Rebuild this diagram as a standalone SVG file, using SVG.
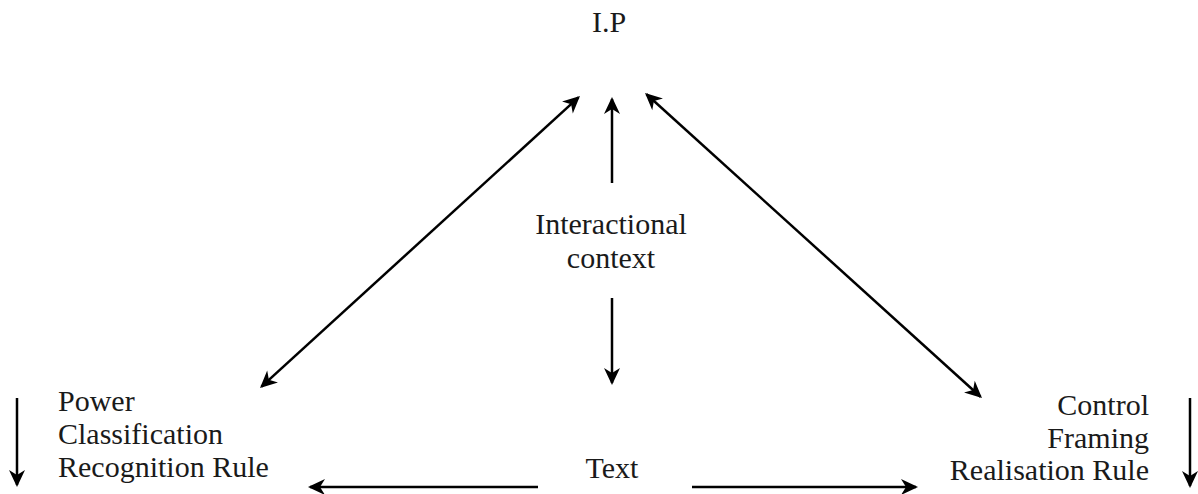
<svg xmlns="http://www.w3.org/2000/svg" width="1198" height="494" viewBox="0 0 1198 494">
  <style>
    .lbl { font-family: "Liberation Serif", "Times New Roman", serif; font-size: 30px; fill: #1a1a1a; }
    .mid { text-anchor: middle; }
    .end { text-anchor: end; }
    .conn line { stroke: #000; stroke-width: 2.5; fill: none; }
    .one { marker-end: url(#head); }
    .two { marker-start: url(#head); marker-end: url(#head); }
  </style>
  <defs>
    <marker id="head" markerUnits="userSpaceOnUse" orient="auto-start-reverse" refX="-2" refY="0" overflow="visible">
      <path d="M0,0 L-17,-8 L-12,0 L-17,8 Z" fill="#000"/>
    </marker>
  </defs>
  <rect width="1198" height="494" fill="#fff"/>

  <g id="node-ip">
    <text class="lbl mid" x="609" y="32">I.P</text>
  </g>
  <g id="node-context">
    <text class="lbl mid" x="611" y="234">Interactional</text>
    <text class="lbl mid" x="611" y="268">context</text>
  </g>
  <g id="node-text">
    <text class="lbl mid" x="612" y="478">Text</text>
  </g>
  <g id="node-power">
    <text class="lbl" x="58" y="411">Power</text>
    <text class="lbl" x="58" y="444">Classification</text>
    <text class="lbl" x="58" y="477">Recognition Rule</text>
  </g>
  <g id="node-control">
    <text class="lbl end" x="1149" y="415">Control</text>
    <text class="lbl end" x="1149" y="448">Framing</text>
    <text class="lbl end" x="1149" y="480">Realisation Rule</text>
  </g>

  <g id="connectors" class="conn">
    <!-- context to I.P and to text -->
    <line class="one" x1="612" y1="183" x2="612" y2="99"/>
    <line class="one" x1="612" y1="298" x2="612" y2="383"/>
    <!-- diagonals between I.P and the two sides -->
    <line class="two" x1="261.5" y1="386.6" x2="578.5" y2="97.4"/>
    <line class="two" x1="646.5" y1="94.3" x2="980.5" y2="396.7"/>
    <!-- text to the two sides -->
    <line class="one" x1="538" y1="487" x2="310" y2="487"/>
    <line class="one" x1="692" y1="487" x2="916" y2="487"/>
    <!-- side downward arrows -->
    <line class="one" x1="17" y1="398" x2="17" y2="485"/>
    <line class="one" x1="1190" y1="398" x2="1190" y2="486"/>
  </g>
</svg>
